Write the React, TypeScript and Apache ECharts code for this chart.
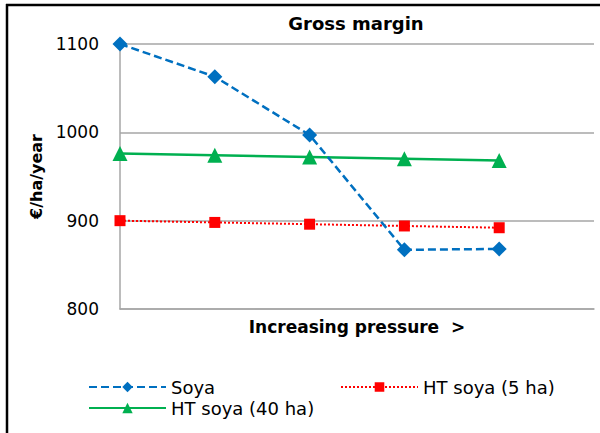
import React, { useEffect, useRef } from "react";
import * as echarts from "echarts";

const categories = ["1", "2", "3", "4", "5", ""];
const soya = [1100, 1063, 997, 867, 868];
const htSoya5 = [900, 898, 896, 894, 892];
const htSoya40 = [976, 974, 972, 970, 968];
const yTicks = { min: 800, max: 1100, interval: 100 };

const FONT = "DejaVu Sans";

export default function App() {
  const ref = useRef<HTMLDivElement>(null);
  useEffect(() => {
    if (!ref.current) return;
    const chart = echarts.init(ref.current, null, { renderer: "svg" });
    const legendText = { fontFamily: FONT, fontSize: 18, color: "#000" };
    chart.setOption({
      animation: false,
      backgroundColor: "#ffffff",
      textStyle: { fontFamily: FONT },
      title: {
        text: "Gross margin",
        left: 351,
        top: 9,
        textAlign: "center",
        textStyle: { fontFamily: FONT, fontSize: 18, fontWeight: "bold", color: "#000" },
      },
      grid: { left: 120, right: 6, top: 44, bottom: 124 },
      legend: [
        {
          data: ["Soya"],
          left: 83,
          top: 373,
          itemWidth: 77,
          itemHeight: 13,
          textStyle: legendText,
        },
        {
          data: ["HT soya (5 ha)"],
          left: 335,
          top: 373,
          itemWidth: 77,
          itemHeight: 12,
          textStyle: legendText,
        },
        {
          data: ["HT soya (40 ha)"],
          left: 83,
          top: 394,
          itemWidth: 77,
          itemHeight: 13,
          textStyle: legendText,
        },
      ],
      xAxis: {
        type: "category",
        data: categories,
        boundaryGap: false,
        name: "Increasing pressure  >",
        nameLocation: "middle",
        nameGap: 9,
        nameTextStyle: {
          fontFamily: FONT,
          fontSize: 17,
          fontWeight: "bold",
          color: "#000",
          verticalAlign: "top",
        },
        axisLine: { lineStyle: { color: "#a6a6a6", width: 1.5 } },
        axisTick: { show: false },
        axisLabel: { show: false },
        splitLine: { show: false },
      },
      yAxis: {
        type: "value",
        min: yTicks.min,
        max: yTicks.max,
        interval: yTicks.interval,
        name: "€/ha/year",
        nameLocation: "middle",
        nameGap: 76,
        nameTextStyle: { fontFamily: FONT, fontSize: 16, fontWeight: "bold", color: "#000" },
        axisLine: { show: true, lineStyle: { color: "#a6a6a6", width: 1.5 } },
        axisTick: { show: false },
        axisLabel: {
          margin: 21,
          fontFamily: FONT,
          fontSize: 17,
          color: "#000",
          formatter: (v: number) => String(v),
        },
        splitLine: { lineStyle: { color: "#a6a6a6", width: 1.5 } },
      },
      series: [
        {
          name: "Soya",
          type: "line",
          data: soya,
          symbol: "diamond",
          symbolSize: 15,
          itemStyle: { color: "#0070c0" },
          lineStyle: { color: "#0070c0", width: 2.5, type: [8, 4] },
          z: 3,
        },
        {
          name: "HT soya (5 ha)",
          type: "line",
          data: htSoya5,
          symbol: "rect",
          symbolSize: 11,
          itemStyle: { color: "#ff0000" },
          lineStyle: { color: "#ff0000", width: 2, type: [2, 2] },
          z: 2,
        },
        {
          name: "HT soya (40 ha)",
          type: "line",
          data: htSoya40,
          symbol: "triangle",
          symbolSize: 15,
          itemStyle: { color: "#00b050" },
          lineStyle: { color: "#00b050", width: 2.5 },
          z: 2,
        },
      ],
      graphic: [
        {
          type: "line",
          shape: { x1: 6, y1: 5, x2: 600, y2: 5 },
          style: { stroke: "#000", lineWidth: 2.5 },
        },
        {
          type: "line",
          shape: { x1: 7, y1: 4, x2: 7, y2: 433 },
          style: { stroke: "#000", lineWidth: 2.5 },
        },
      ],
    });
    return () => chart.dispose();
  }, []);
  return (
    <div
      ref={ref}
      style={{ position: "fixed", left: 0, top: 0, width: 600, height: 433 }}
    />
  );
}
